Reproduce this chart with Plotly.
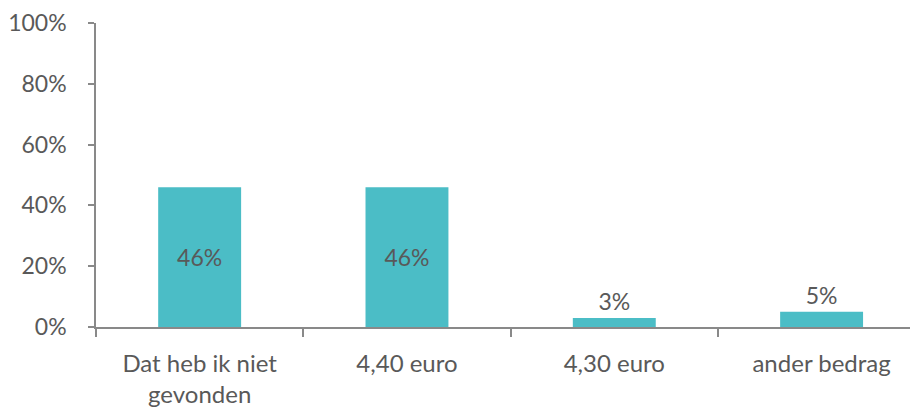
import plotly.graph_objects as go

categories = ["Dat heb ik niet<br>gevonden", "4,40 euro", "4,30 euro", "ander bedrag"]
values = [46, 46, 3, 5]
labels = ["46%", "46%", "3%", "5%"]
text_positions = ["inside", "inside", "outside", "outside"]
y_ticks = [0, 20, 40, 60, 80, 100]
y_tick_labels = ["0%", "20%", "40%", "60%", "80%", "100%"]

BAR = "#4BBDC6"
TXT = "#595959"
AXIS = "#898989"
FONT = "Lato"

fig = go.Figure(go.Bar(
    x=categories, y=values, text=labels, textposition=text_positions,
    insidetextanchor="middle", marker=dict(color=BAR, line=dict(width=0)),
    width=0.4, textfont=dict(family=FONT, size=23, color=TXT),
    cliponaxis=False,
))

# page body has an 8px margin, so the figure is sized to fit the 918x408 window
fig.update_layout(
    width=910, height=400,
    margin=dict(l=85, r=0, t=12, b=80),
    plot_bgcolor="white", paper_bgcolor="white",
    font=dict(family=FONT, size=23, color=TXT),
    showlegend=False,
)
fig.update_xaxes(
    range=[-0.5, 3.465], showline=True, linecolor=AXIS, linewidth=1.5,
    ticks="outside", tickson="boundaries", ticklen=8, tickcolor=AXIS, tickwidth=1.5,
    showgrid=False, ticklabelstandoff=14,
    tickfont=dict(family=FONT, size=24, color=TXT),
)
fig.update_yaxes(
    range=[0, 100], tickvals=y_ticks, ticktext=y_tick_labels,
    showline=True, linecolor=AXIS, linewidth=1.5,
    ticks="outside", ticklen=6, tickcolor=AXIS, tickwidth=1.5,
    showgrid=False, zeroline=False, ticklabelstandoff=17,
    ticklabeloverflow="allow",
    tickfont=dict(family=FONT, size=23, color=TXT),
)

fig.write_html("out.html")
